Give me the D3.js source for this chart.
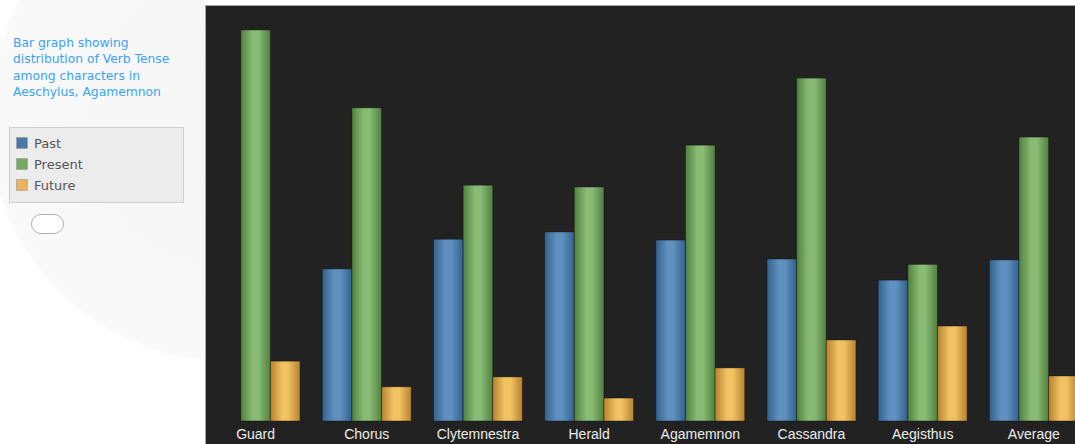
<!DOCTYPE html>
<html>
<head>
<meta charset="utf-8">
<script src="https://cdn.jsdelivr.net/npm/d3@7/dist/d3.min.js"></script>
<style>
  html, body { margin: 0; padding: 0; background: #fff; overflow: hidden; }
  svg { display: block; }
</style>
</head>
<body>
<svg id="chart" width="1075" height="444"></svg>
<script>
// Characters of the play, plus the overall average
const characters = ["Guard", "Chorus", "Clytemnestra", "Herald", "Agamemnon", "Cassandra", "Aegisthus", "Average"];
const tenses = ["Past", "Present", "Future"];

// Share of verbs in each tense, per speaker
const pastValues    = [0, 33.8, 40.4, 42.0, 40.2, 36.0, 31.3, 35.8];
const presentValues = [86.9, 69.6, 52.4, 52.0, 61.3, 76.2, 34.8, 63.1];
const futureValues  = [13.3, 7.6, 9.8, 5.1, 11.8, 18.0, 21.1, 10.0];

const titleLines = ["Bar graph showing", "distribution of Verb Tense", "among characters in", "Aeschylus, Agamemnon"];

const seriesValues = [pastValues, presentValues, futureValues];
const palette = {
  Past:    { edge: "#33618d", mid: "#5f90bf", swatch: "#4a78a8" },
  Present: { edge: "#51803f", mid: "#88bb74", swatch: "#76a865" },
  Future:  { edge: "#b7822f", mid: "#f1c263", swatch: "#e8b55a" }
};

const svg = d3.select("#chart");
const defs = svg.append("defs");

// faint shading behind the side panel
const bgGrad = defs.append("radialGradient").attr("id", "sideShade")
  .attr("gradientUnits", "userSpaceOnUse")
  .attr("cx", 230).attr("cy", 120).attr("r", 300);
bgGrad.append("stop").attr("offset", "0").attr("stop-color", "#f6f6f6");
bgGrad.append("stop").attr("offset", "0.8").attr("stop-color", "#f9f9f9");
bgGrad.append("stop").attr("offset", "0.81").attr("stop-color", "#ffffff");
svg.append("rect").attr("x", 0).attr("y", 0).attr("width", 205).attr("height", 444).attr("fill", "url(#sideShade)");

// cylinder-like horizontal gradients for the bars
tenses.forEach(t => {
  const g = defs.append("linearGradient").attr("id", "grad-" + t)
    .attr("x1", "0").attr("x2", "1").attr("y1", "0").attr("y2", "0");
  g.append("stop").attr("offset", "0").attr("stop-color", palette[t].edge);
  g.append("stop").attr("offset", "0.4").attr("stop-color", palette[t].mid);
  g.append("stop").attr("offset", "0.6").attr("stop-color", palette[t].mid);
  g.append("stop").attr("offset", "1").attr("stop-color", palette[t].edge);
});

// dark plot panel
svg.append("rect")
  .attr("x", 205.5).attr("y", 5.5).attr("width", 875).attr("height", 445)
  .attr("fill", "#222222").attr("stroke", "#a8a8a8").attr("stroke-width", 1);

const baseline = 421;
const x = d3.scaleBand().domain(characters).range([200, 1089.4]).paddingInner(0.2).paddingOuter(0.1);
const xSub = d3.scaleBand().domain(tenses).range([0, x.bandwidth()]);
const y = d3.scaleLinear().domain([0, 100]).range([baseline, baseline - 450]);

const plot = svg.append("g");
const groups = plot.selectAll("g.group")
  .data(characters)
  .join("g")
  .attr("class", "group")
  .attr("transform", d => `translate(${x(d)},0)`);

groups.selectAll("rect.bar")
  .data((d, i) => tenses.map((t, k) => ({ tense: t, value: seriesValues[k][i] })))
  .join("rect")
  .attr("class", "bar")
  .filter(d => d.value > 0)
  .attr("x", d => xSub(d.tense))
  .attr("y", d => y(d.value))
  .attr("width", xSub.bandwidth())
  .attr("height", d => baseline - y(d.value))
  .attr("fill", d => `url(#grad-${d.tense})`)
  .attr("stroke", "rgba(0,0,0,0.35)")
  .attr("stroke-width", 1);

// category axis labels
const xAxis = d3.axisBottom(x).tickSize(0).tickPadding(8);
const axisG = svg.append("g").attr("transform", `translate(0,${baseline})`).call(xAxis);
axisG.select(".domain").remove();
axisG.selectAll("text")
  .attr("fill", "#ececec")
  .attr("font-family", "Liberation Sans, Arial, sans-serif")
  .attr("font-size", 14);

// title
const title = svg.append("text")
  .attr("x", 13).attr("y", 47)
  .attr("fill", "#3aa3f2")
  .attr("font-family", "DejaVu Sans, sans-serif")
  .attr("font-size", 12.3);
title.selectAll("tspan").data(titleLines).join("tspan")
  .attr("x", 13).attr("dy", (d, i) => i === 0 ? 0 : 16.3)
  .text(d => d);

// legend
const legend = svg.append("g");
legend.append("rect")
  .attr("x", 9.5).attr("y", 127.5).attr("width", 174).attr("height", 75)
  .attr("fill", "#ececec").attr("stroke", "#cfcfcf");
const items = legend.selectAll("g.item").data(tenses).join("g")
  .attr("class", "item")
  .attr("transform", (d, i) => `translate(16,${137 + i * 21})`);
items.append("rect")
  .attr("x", 0.5).attr("y", 0.5).attr("width", 11).attr("height", 11)
  .attr("fill", d => palette[d].swatch).attr("stroke", "#9a9a9a").attr("stroke-width", 0.6);
items.append("text")
  .attr("x", 18).attr("y", 11)
  .attr("fill", "#555")
  .attr("font-family", "DejaVu Sans, sans-serif")
  .attr("font-size", 13)
  .text(d => d);

// small rounded button under the legend
svg.append("rect")
  .attr("x", 31.5).attr("y", 214.5).attr("width", 32).attr("height", 19).attr("rx", 9.5)
  .attr("fill", "#ffffff").attr("stroke", "#b0b0b0").attr("stroke-width", 1);
</script>
</body>
</html>
